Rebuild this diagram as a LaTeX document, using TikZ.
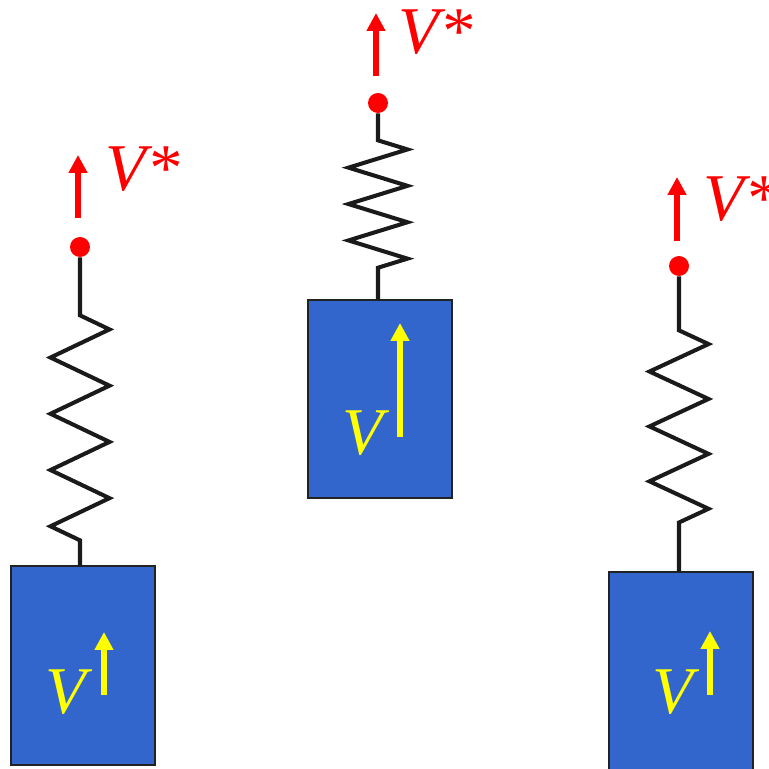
\documentclass[tikz,border=0pt]{standalone}
\usepackage{fontspec}
\setmainfont{Liberation Serif}
\usetikzlibrary{positioning,arrows.meta,decorations.pathmorphing}
\definecolor{massF}{HTML}{3366CC}
\definecolor{massB}{HTML}{222222}
\definecolor{coilB}{HTML}{1A1A1A}
\definecolor{targB}{HTML}{FF0000}
\definecolor{velB}{HTML}{FFFF00}
\tikzset{
 mass/.style={draw=massB, fill=massF, line width=0.6pt, minimum width=2.88cm, minimum height=3.98cm, inner sep=0pt},
 knob/.style={circle, fill=targB, minimum size=0.4cm, inner sep=0pt},
 coil/.style n args={3}{draw=coilB, line width=2.3pt, decorate,
   decoration={zigzag, amplitude=5.9mm, pre length=#1, post length=#2, segment length=#3}},
 tarr/.style={-{Triangle[length=3.6mm,width=3.6mm]}, line width=3.4pt, draw=targB},
 varr/.style={-{Triangle[length=3.6mm,width=3.6mm]}, line width=3.9pt, draw=velB},
 tlbl/.style={anchor=base west, inner sep=0pt, text=targB, font=\fontsize{38}{38}\selectfont\itshape},
 vlbl/.style={anchor=base west, inner sep=0pt, text=velB, font=\fontsize{38}{38}\selectfont\itshape},
}
\begin{document}
\begin{tikzpicture}
\useasboundingbox (0,0) rectangle (15.38,15.38);
% masses
\node[mass] (m1) at (1.66,2.07) {};
\node[mass, minimum height=3.96cm] (m2) at (7.60,7.40) {};
\node[mass] (m3) at (13.62,1.95) {};
% target points
\node[knob] (p1) at (1.60,10.44) {};
\node[knob] (p2) at (7.56,13.32) {};
\node[knob] (p3) at (13.58,10.06) {};
% springs
\draw[coil={1.16cm}{0.5cm}{1.125cm}] (p1.south) -- (p1.south |- m1.north);
\draw[coil={0.54cm}{0.28cm}{0.728cm}] (p2.south) -- (p2.south |- m2.north);
\draw[coil={1.08cm}{0.44cm}{1.098cm}] (p3.south) -- (p3.south |- m3.north);
% target velocity
\draw[tarr] ([xshift=-0.4mm, yshift=5.8mm]p1.center) -- ++(0,1.26);
\draw[tarr] ([xshift=-0.4mm, yshift=5.4mm]p2.center) -- ++(0,1.26);
\draw[tarr] ([xshift=-0.4mm, yshift=5.0mm]p3.center) -- ++(0,1.28);
\node[tlbl] (s1) at (2.10,11.56) {V*};
\node[tlbl] (s2) at (7.96,14.30) {V*};
\node[tlbl] (s3) at (14.06,10.96) {V*};
% mass velocity
\draw[varr] ([xshift=4.2mm, yshift=-5.9mm]m1.center) -- ++(0,1.26);
\draw[varr] ([xshift=4.0mm, yshift=-7.6mm]m2.center) -- ++(0,2.28);
\draw[varr] ([xshift=5.8mm, yshift=-4.7mm]m3.center) -- ++(0,1.28);
\node[vlbl] (v1) at (0.90,1.12) {V};
\node[vlbl] (v2) at (6.84,6.28) {V};
\node[vlbl] (v3) at (13.04,1.12) {V};
\end{tikzpicture}
\end{document}
